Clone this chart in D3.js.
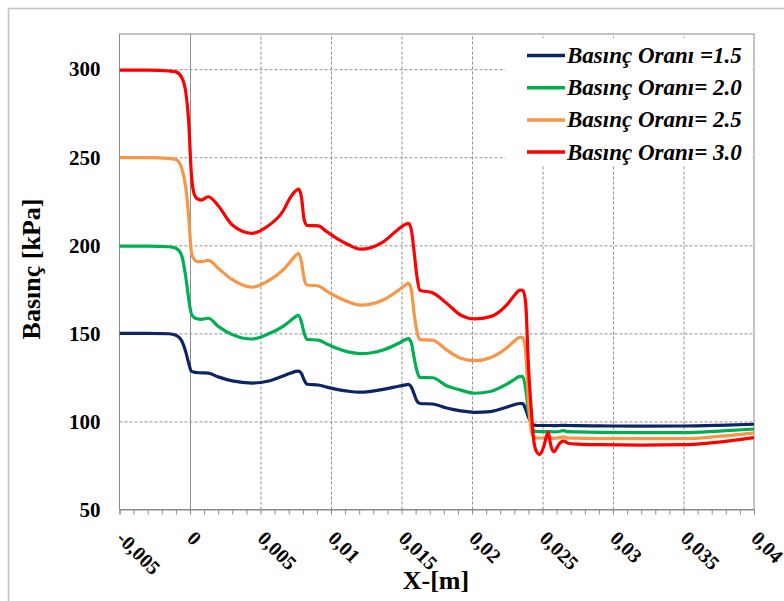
<!DOCTYPE html>
<html>
<head>
<meta charset="utf-8">
<script src="https://cdn.jsdelivr.net/npm/d3@7"></script>
<style>
  body { margin: 0; background: #fff; }
  svg { display: block; font-family: "Liberation Serif", "Times New Roman", serif; }
</style>
</head>
<body>
<div id="chart"></div>
<script>
// Position along the channel [m]
const xValues = [-0.005, -0.003, -0.0015, -0.001, -0.0006, -0.0003, -0.0001, 0.0001, 0.0003, 0.0005,
    0.0008, 0.0013, 0.002, 0.003, 0.0044, 0.0055, 0.0066, 0.0071, 0.0075, 0.0077,
    0.0079, 0.0081, 0.0083, 0.0091, 0.0097, 0.0104, 0.0112, 0.0121, 0.0137, 0.0148,
    0.0153, 0.0155, 0.0157, 0.0159, 0.0161, 0.0163, 0.0172, 0.0182, 0.0192, 0.0202,
    0.0213, 0.0225, 0.023, 0.0234, 0.0236, 0.0238, 0.024, 0.0242, 0.0244, 0.0246,
    0.0248, 0.0251, 0.0254, 0.0256, 0.0258, 0.0262, 0.0265, 0.0268, 0.0275, 0.029,
    0.032, 0.035, 0.0375, 0.04];

// Pressure [kPa] for each pressure ratio
const p15 = [150, 150, 149.8, 149, 146, 139.5, 133.3, 128.5, 128, 127.8,
    127.6, 127.4, 125.3, 123, 121.8, 122.8, 125.8, 127.3, 128.4, 128.6,
    127.3, 123.5, 121.1, 120.7, 119.5, 118.2, 117.2, 116.6, 118.2, 120,
    120.8, 121.1, 119.5, 115.5, 111.5, 110.2, 109.9, 107.6, 106, 105.2,
    105.6, 108.2, 109.5, 110.2, 110.1, 107, 102.5, 99.5, 98, 97.7,
    97.7, 97.7, 97.7, 97.7, 97.6, 97.7, 97.8, 97.7, 97.6, 97.5,
    97.3, 97.4, 97.8, 98.4];
const p20 = [199.5, 199.5, 199.2, 198.3, 194.5, 182, 170, 161, 159, 158.3,
    158, 158.6, 154, 149.3, 146.8, 149.5, 154, 157, 159.6, 160.3,
    156.6, 150, 146.6, 146.2, 144, 141.5, 139.5, 138.5, 140.6, 144.4,
    146.5, 147, 144.5, 136, 128.5, 125, 124.8, 120.3, 117.8, 116,
    117, 121.3, 123.8, 125.6, 125.5, 119, 106, 98, 94.5, 94.3,
    94.2, 94.2, 94.3, 94.2, 94.1, 94.3, 94.8, 94.2, 94.1, 93.8,
    93.6, 93.6, 94.5, 95.7];
const p25 = [249.8, 249.8, 249.4, 248.7, 244, 233, 217, 196, 192, 190.8,
    190.7, 191.5, 187, 180.5, 176.2, 179.6, 186, 190.5, 194.3, 195.5,
    190.7, 181, 177.5, 176.9, 174, 170.8, 168, 166.1, 169, 174.6,
    177.6, 178.4, 174.6, 161, 151, 146.5, 146.2, 140.6, 135.9, 134.5,
    136.2, 142, 145.6, 147.7, 147.6, 140, 112, 95, 90.8, 90.6,
    90.6, 90.6, 90.7, 90.6, 90.4, 90.8, 91.2, 90.6, 90.5, 90.3,
    90.2, 90.2, 91.5, 93.5];
const p30 = [299.5, 299.5, 299, 298.5, 295.5, 287, 271, 240, 229, 226.5,
    225.7, 227.6, 222.5, 211.5, 206.8, 210.8, 219.5, 227, 231, 232,
    227.6, 214.4, 211.3, 211, 207.7, 204, 200.5, 197.8, 202, 209.3,
    212, 212.5, 208.7, 196, 182, 174.5, 173.1, 167.1, 160.4, 158.2,
    159.5, 166.5, 171.5, 174.6, 174.5, 168, 132, 107, 88, 82.5,
    81.2, 86, 94, 86, 82.8, 87.4, 89, 87.6, 87.1, 86.8,
    86.6, 86.8, 88.3, 90.8];

const seriesNames = ["Basınç Oranı =1.5", "Basınç Oranı= 2.0", "Basınç Oranı= 2.5", "Basınç Oranı= 3.0"];
const seriesColors = ["#0b2566", "#00b050", "#f79646", "#ff0000"];
const xTicks = [-0.005, 0, 0.005, 0.01, 0.015, 0.02, 0.025, 0.03, 0.035, 0.04];
const xTickLabels = ["-0,005", "0", "0,005", "0,01", "0,015", "0,02", "0,025", "0,03", "0,035", "0,04"];
const yTicks = [50, 100, 150, 200, 250, 300];

const series = [p15, p20, p25, p30].map((vals, i) => ({
    name: seriesNames[i],
    color: seriesColors[i],
    points: xValues.map((x, j) => ({ x: x, y: vals[j] }))
}));

const W = 784, H = 601;
const margin = { top: 34, right: 30, bottom: 91.5, left: 119.5 };
const width = W - margin.left - margin.right;
const height = H - margin.top - margin.bottom;

const root = d3.select("#chart")
    .append("svg")
    .attr("width", W)
    .attr("height", H);

root.append("rect").attr("width", W).attr("height", H).attr("fill", "#fff");

// outer chart frame (only top and left are in view)
root.append("rect")
    .attr("x", 8.5).attr("y", 8.5)
    .attr("width", W + 20).attr("height", H + 20)
    .attr("fill", "none")
    .attr("stroke", "#c4c4c4")
    .attr("stroke-width", 1.6);

const svg = root.append("g")
    .attr("transform", `translate(${margin.left}, ${margin.top})`);

const x = d3.scaleLinear().domain([-0.005, 0.04]).range([0, width]);
const y = d3.scaleLinear().domain([50, 320]).range([height, 0]);

// Horizontal grid
svg.append("g")
    .attr("class", "y-grid")
    .call(d3.axisLeft(y).tickValues(yTicks.slice(1)).tickSize(-width).tickFormat(""))
    .call(g => g.select(".domain").remove())
    .call(g => g.selectAll("line")
        .attr("stroke", "#8f8f8f")
        .attr("stroke-dasharray", "3,2"));

// Vertical grid
svg.append("g")
    .attr("class", "x-grid")
    .attr("transform", `translate(0, ${height})`)
    .call(d3.axisBottom(x).tickValues(xTicks.slice(1, -1)).tickSize(-height).tickFormat(""))
    .call(g => g.select(".domain").remove())
    .call(g => g.selectAll("line")
        .attr("stroke", "#8f8f8f")
        .attr("stroke-dasharray", d => d === 0 ? null : "3,2"));

// Plot area border
svg.append("rect")
    .attr("width", width)
    .attr("height", height)
    .attr("fill", "none")
    .attr("stroke", "#8a8a8a")
    .attr("stroke-width", 1);

// Minor ticks on the x-axis
const minorTicks = d3.range(-5, 41).map(d => d / 1000);
svg.append("g")
    .attr("class", "x-minor")
    .attr("transform", `translate(0, ${height})`)
    .call(d3.axisBottom(x).tickValues(minorTicks).tickSize(5).tickFormat(""))
    .call(g => g.select(".domain").attr("stroke", "#8a8a8a"))
    .call(g => g.selectAll("line").attr("stroke", "#8a8a8a"));

// X-axis labels, rotated
svg.append("g")
    .attr("class", "x-axis")
    .attr("transform", `translate(0, ${height})`)
    .call(d3.axisBottom(x).tickValues(xTicks).tickSize(0).tickFormat((d, i) => xTickLabels[i]))
    .call(g => g.select(".domain").remove())
    .call(g => g.selectAll("text")
        .attr("x", null).attr("y", null).attr("dy", null)
        .attr("text-anchor", "start")
        .attr("transform", "translate(-4.5, 30) rotate(45)")
        .attr("fill", "#000")
        .style("font-family", "Liberation Serif")
        .style("font-size", "20px")
        .style("font-weight", "bold"));

// Y-axis labels
svg.append("g")
    .attr("class", "y-axis")
    .call(d3.axisLeft(y).tickValues(yTicks).tickSize(0).tickPadding(19))
    .call(g => g.select(".domain").remove())
    .call(g => g.selectAll("text")
        .attr("fill", "#000")
        .style("font-family", "Liberation Serif")
        .style("font-size", "21px")
        .style("font-weight", "bold"));

// Axis titles
root.append("text")
    .attr("transform", "translate(40, 269) rotate(-90)")
    .attr("text-anchor", "middle")
    .style("font-size", "26px")
    .style("font-weight", "bold")
    .text("Basınç  [kPa]");

root.append("text")
    .attr("x", 436)
    .attr("y", 589)
    .attr("text-anchor", "middle")
    .style("font-size", "26px")
    .style("font-weight", "bold")
    .text("X-[m]");

// Lines
svg.append("defs").append("clipPath").attr("id", "plot-clip")
    .append("rect").attr("width", width).attr("height", height);

const lineGenerator = d3.line()
    .x(d => x(d.x))
    .y(d => y(d.y))
    .curve(d3.curveMonotoneX);

svg.append("g")
    .attr("clip-path", "url(#plot-clip)")
    .selectAll(".line")
    .data(series)
    .join("path")
    .attr("class", "line")
    .attr("fill", "none")
    .attr("stroke", d => d.color)
    .attr("stroke-width", 3.2)
    .attr("stroke-linejoin", "round")
    .attr("d", d => lineGenerator(d.points));

// Legend
const legend = root.append("g").attr("class", "legend");
legend.append("rect")
    .attr("x", 505).attr("y", 38)
    .attr("width", 247).attr("height", 128)
    .attr("fill", "#fff");

const rows = legend.selectAll(".row")
    .data(series)
    .join("g")
    .attr("class", "row")
    .attr("transform", (d, i) => `translate(527, ${55.5 + i * 32.2})`);

rows.append("line")
    .attr("x1", 0).attr("x2", 38)
    .attr("stroke", d => d.color)
    .attr("stroke-width", 3.5);

rows.append("text")
    .attr("x", 40)
    .attr("y", 7.5)
    .style("font-size", "23px")
    .style("font-weight", "bold")
    .style("font-style", "italic")
    .text(d => d.name);
</script>
</body>
</html>
